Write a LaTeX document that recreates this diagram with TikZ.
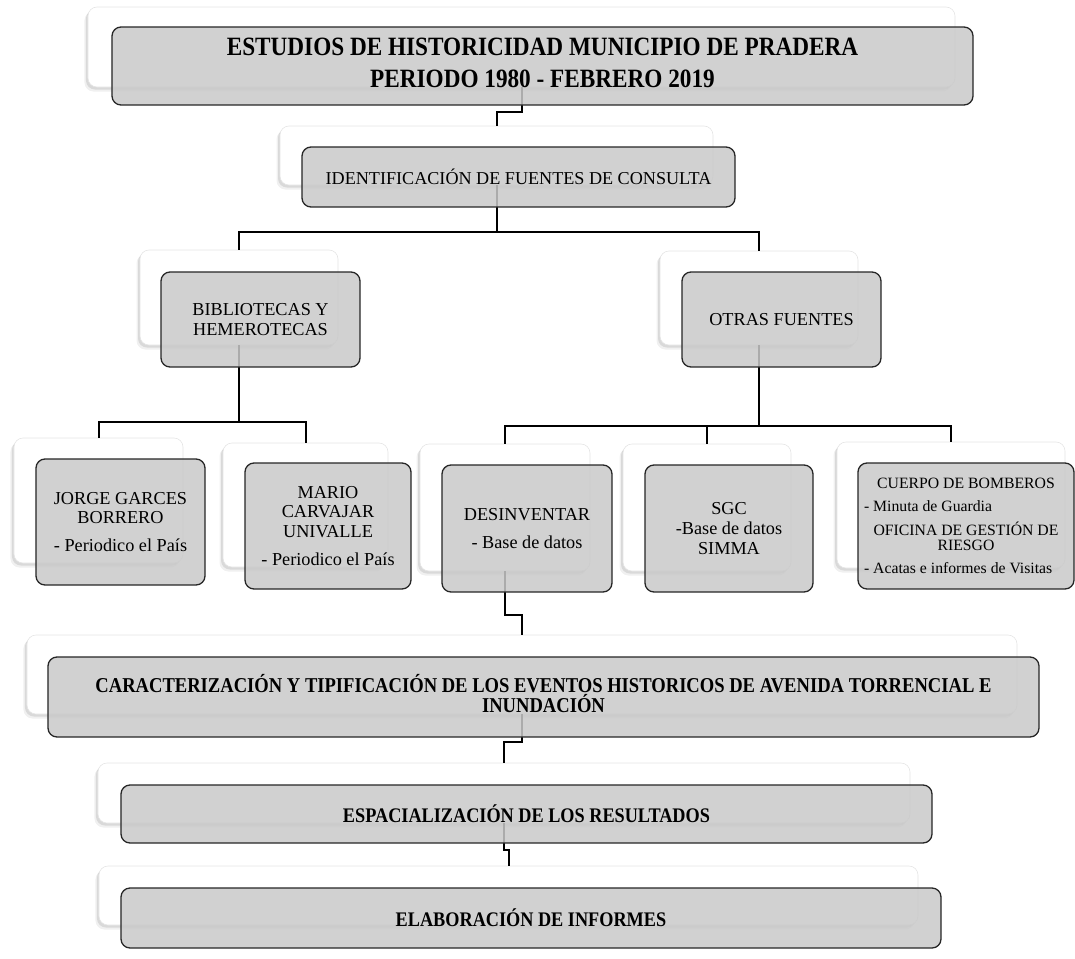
\documentclass[tikz,border=0pt]{standalone}
\usepackage{fontspec}
\setmainfont{Liberation Serif}
\newfontfamily\condfont[FakeStretch=0.88]{Liberation Serif}
\usetikzlibrary{shadows}
\tikzset{
  wbox/.style={rectangle, rounded corners=9bp, fill=white, draw=black!10, line width=0.6bp, inner sep=0pt,
     drop shadow={shadow xshift=-3.5bp, shadow yshift=-4.5bp, opacity=0.12},
     drop shadow={shadow xshift=-2bp, shadow yshift=-2.5bp, opacity=0.2}},
  gbox/.style={rectangle, rounded corners=9bp, fill=black!21, fill opacity=0.85, text opacity=1,
     draw=black!85, line width=1.3bp, inner sep=2bp, align=center,
     font=\fontsize{18.3}{19.5}\selectfont},
  btext/.style={inner sep=0pt, align=center},
  conn/.style={draw=black, line width=2bp},
}
\begin{document}
\begin{tikzpicture}[x=1bp,y=-1bp]
\useasboundingbox (0,0) rectangle (1075,959);
% white back boxes
\node[wbox, minimum width=867bp, minimum height=80bp] (w0) at (521.5,47) {};
\node[wbox, minimum width=433bp, minimum height=59bp] (w1) at (496.5,155.5) {};
\node[wbox, minimum width=198bp, minimum height=95bp] (wB) at (239,297.5) {};
\node[wbox, minimum width=198bp, minimum height=94bp] (wO) at (759,298) {};
\node[wbox, minimum width=169bp, minimum height=125bp] (wJ) at (98.5,500.5) {};
\node[wbox, minimum width=165bp, minimum height=124bp] (wM) at (305.5,505) {};
\node[wbox, minimum width=170bp, minimum height=127bp] (wD) at (505,507.5) {};
\node[wbox, minimum width=168bp, minimum height=127bp] (wS) at (707,507.5) {};
\node[wbox, minimum width=228bp, minimum height=126bp] (wC) at (951,505) {};
\node[wbox, minimum width=990bp, minimum height=79bp] (wK) at (522,674.5) {};
\node[wbox, minimum width=812bp, minimum height=60bp] (wE) at (504,793) {};
\node[wbox, minimum width=819bp, minimum height=59bp] (wL) at (508.5,895.5) {};
% bus levels
\coordinate (y1) at (0,112);
\coordinate (y2) at (0,232);
\coordinate (y3) at (0,422);
\coordinate (y4) at (0,426);
\coordinate (y5) at (0,615);
\coordinate (y6) at (0,742);
\coordinate (y7) at (0,850);
% connectors
\draw[conn] (w0.south) -- (w0.south |- y1) -- (w1.north |- y1) -- (w1.north);
\draw[conn] (w1.south) -- (w1.south |- y2);
\draw[conn] (wB.north) -- (wB.north |- y2) -- (wO.north |- y2) -- (wO.north);
\draw[conn] (wB.south) -- (wB.south |- y3);
\draw[conn] (wJ.north) -- (wJ.north |- y3) -- (wM.north |- y3) -- (wM.north);
\draw[conn] (wO.south) -- (wO.south |- y4);
\draw[conn] (wD.north) -- (wD.north |- y4) -- (wC.north |- y4) -- (wC.north);
\draw[conn] (wS.north) -- (wS.north |- y4);
\draw[conn] (wD.south) -- (wD.south |- y5) -- (wK.north |- y5) -- (wK.north);
\draw[conn] (wK.south) -- (wK.south |- y6) -- (wE.north |- y6) -- (wE.north);
\draw[conn] (wE.south) -- (wE.south |- y7) -- (wL.north |- y7) -- (wL.north);
% gray front boxes
\node[gbox, minimum width=861bp, minimum height=78bp] (g0) at (542.5,66) {};
\node[btext, font=\condfont\bfseries\fontsize{26.5}{32}\selectfont] (t0) at ([yshift=3.5bp]g0.center)
  {ESTUDIOS DE HISTORICIDAD MUNICIPIO DE PRADERA\\PERIODO 1980 - FEBRERO 2019};
\node[gbox, minimum width=433bp, minimum height=60bp, font=\fontsize{18.2}{19.5}\selectfont] (g1) at (518.5,177)
  {IDENTIFICACIÓN DE FUENTES DE CONSULTA};
\node[gbox, minimum width=199bp, minimum height=95bp] (gB) at (260.5,319.5)
  {BIBLIOTECAS Y\\HEMEROTECAS};
\node[gbox, minimum width=199bp, minimum height=95bp] (gO) at (781.5,319.5)
  {OTRAS FUENTES};
\node[gbox, minimum width=169bp, minimum height=126bp] (gJ) at (120.5,522)
  {JORGE GARCES\\BORRERO\\[9bp]- Periodico el País};
\node[gbox, minimum width=166bp, minimum height=126bp] (gM) at (328,526)
  {MARIO\\CARVAJAR\\UNIVALLE\\[9bp]- Periodico el País};
\node[gbox, minimum width=170bp, minimum height=127bp] (gD) at (527,528.5)
  {DESINVENTAR\\[8bp]- Base de datos};
\node[gbox, minimum width=168bp, minimum height=127bp] (gS) at (729,528.5)
  {SGC\\[1bp]-Base de datos\\SIMMA};
\node[gbox, minimum width=216bp, minimum height=126bp, align=left, font=\fontsize{15.8}{15.5}\selectfont] (gC) at (966,526)
  {\makebox[204bp][c]{CUERPO DE BOMBEROS}\\[8bp]- Minuta de Guardia\\[8bp]\makebox[204bp][c]{OFICINA DE GESTIÓN DE}\\\makebox[204bp][c]{RIESGO}\\[8bp]- Acatas e informes de Visitas};
\node[gbox, minimum width=991bp, minimum height=80bp] (gK) at (543.5,697) {};
\node[btext, font=\condfont\bfseries\fontsize{21.2}{18.5}\selectfont] (tK) at ([yshift=3.5bp]gK.center)
  {CARACTERIZACIÓN Y TIPIFICACIÓN DE LOS EVENTOS HISTORICOS DE AVENIDA TORRENCIAL E\\INUNDACIÓN};
\node[gbox, minimum width=811bp, minimum height=58bp, font=\condfont\bfseries\fontsize{20.8}{19}\selectfont] (gE) at (526.5,814)
  {ESPACIALIZACIÓN DE LOS RESULTADOS};
\node[gbox, minimum width=820bp, minimum height=60bp, font=\condfont\bfseries\fontsize{20.8}{19}\selectfont] (gL) at (531,918)
  {ELABORACIÓN DE INFORMES};
\end{tikzpicture}
\end{document}
